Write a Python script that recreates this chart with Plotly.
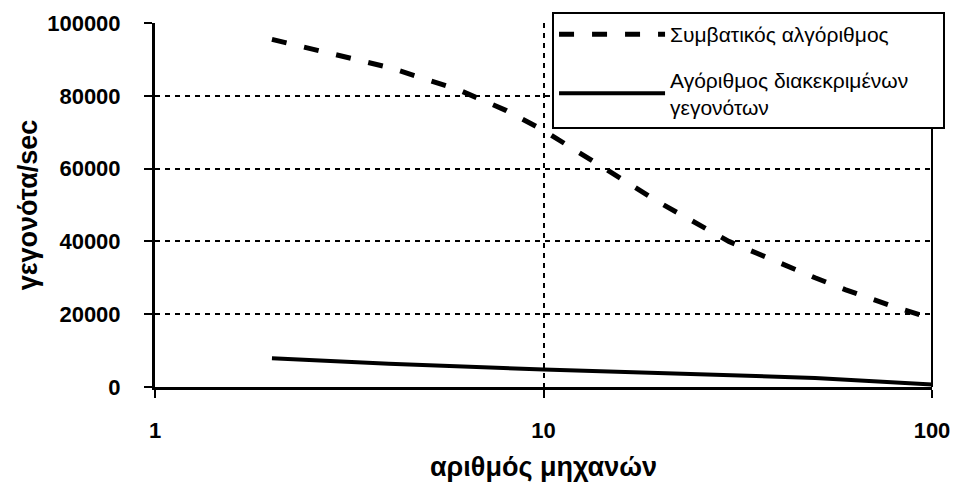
import plotly.graph_objects as go

# Data
x_conv = [2, 3, 4, 6, 8, 10, 12, 16, 20, 30, 40, 50, 60, 80, 100]
y_conv = [95500, 91000, 87800, 81800, 76000, 70500, 65200, 57000, 50500, 40000, 34300, 30000, 26700, 22000, 18800]
x_des = [2, 4, 10, 30, 50, 100]
y_des = [7900, 6400, 4800, 3400, 2500, 700]
name_conv = "Συμβατικός αλγόριθμος"
name_des = "Αγόριθμος διακεκριμένων" + "\u00a0" * 5 + "<br>γεγονότων"
x_ticks = [1, 10, 100]
x_ticktext = ["1", "10", "100"]
y_ticks = [0, 20000, 40000, 60000, 80000, 100000]
y_ticktext = ["0", "20000", "40000", "60000", "80000", "100000"]
x_title = "αριθμός μηχανών"
y_title = "γεγονότα/sec"

FONT = "Liberation Sans, Arial, sans-serif"
BOLD = dict(family=FONT, size=22, color="black", weight="bold")
TITLE = dict(family=FONT, size=27, color="black", weight="bold")

fig = go.Figure()
fig.add_trace(go.Scatter(
    x=x_conv, y=y_conv, mode="lines", name=name_conv, legendgroup="a",
    line=dict(color="black", width=5, dash="15px,18px"),
))
fig.add_trace(go.Scatter(
    x=x_des, y=y_des, mode="lines", name=name_des, legendgroup="b",
    line=dict(color="black", width=4),
))

fig.update_layout(
    width=957, height=486, autosize=False,
    margin=dict(l=155, r=25, t=21, b=99),
    paper_bgcolor="white", plot_bgcolor="white",
    font=dict(family=FONT, color="black"),
    showlegend=True,
    legend=dict(
        x=0.511, y=1.03, xanchor="left", yanchor="top",
        bgcolor="white", bordercolor="black", borderwidth=2,
        font=dict(family=FONT, size=21, color="black"),
        tracegroupgap=15, itemwidth=106,
    ),
    shapes=[dict(type="line", xref="paper", yref="paper", x0=1, x1=1, y0=0, y1=1,
                 line=dict(color="black", width=2), layer="below")],
)

fig.update_xaxes(
    type="log", range=[0, 2], automargin=False,
    tickvals=x_ticks, ticktext=x_ticktext,
    tickfont=BOLD,
    ticks="outside", ticklen=8, tickwidth=2, tickcolor="black",
    ticklabelstandoff=14,
    showline=True, linecolor="black", linewidth=3,
    showgrid=True, gridcolor="black", gridwidth=2, griddash="5px,5px",
    zeroline=False,
    title=dict(text=x_title, font=TITLE, standoff=15),
)
fig.update_yaxes(
    range=[0, 100000], automargin=False,
    tickvals=y_ticks, ticktext=y_ticktext,
    tickfont=BOLD,
    ticks="outside", ticklen=8, tickwidth=2, tickcolor="black",
    ticklabelstandoff=19,
    showline=True, linecolor="black", linewidth=3,
    showgrid=True, gridcolor="black", gridwidth=2, griddash="5px,5px",
    zeroline=False,
    title=dict(text=y_title, font=TITLE, standoff=2),
)

fig.write_html("out.html", config={"displayModeBar": False},
               post_script="document.body.style.margin='0px';document.body.style.overflow='hidden';")
